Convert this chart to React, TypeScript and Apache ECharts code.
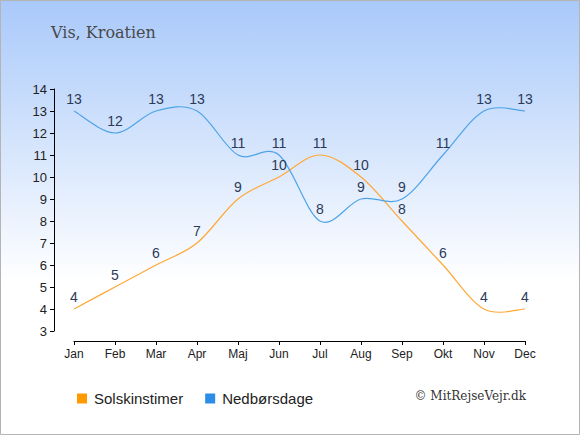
import React, { useEffect, useRef } from "react";
import * as echarts from "echarts";

const months = ["Jan", "Feb", "Mar", "Apr", "Maj", "Jun", "Jul", "Aug", "Sep", "Okt", "Nov", "Dec"];
const sunHours = [4, 5, 6, 7, 9, 10, 11, 10, 8, 6, 4, 4];
const rainDays = [13, 12, 13, 13, 11, 11, 8, 9, 9, 11, 13, 13];
const titleText = "Vis, Kroatien";
const sunName = "Solskinstimer";
const rainName = "Nedbørsdage";
const copyright = "© MitRejseVejr.dk";

const SUN_LINE = "#ffa834";
const RAIN_LINE = "#4da3ea";

function splineSeries(name: string, values: number[], color: string) {
  return {
    name,
    type: "custom",
    coordinateSystem: "cartesian2d",
    data: [[0, values[0]]],
    silent: true,
    z: 2,
    renderItem: (_params: any, api: any) => {
      const pts = values.map((v, i) => api.coord([i, v]));
      let d = `M${pts[0][0]},${pts[0][1]}`;
      for (let i = 0; i < pts.length - 1; i++) {
        const p0 = pts[i - 1] || pts[i];
        const p1 = pts[i];
        const p2 = pts[i + 1];
        const p3 = pts[i + 2] || pts[i + 1];
        const c1x = p1[0] + (p2[0] - p0[0]) / 6;
        const c1y = p1[1] + (p2[1] - p0[1]) / 6;
        const c2x = p2[0] - (p3[0] - p1[0]) / 6;
        const c2y = p2[1] - (p3[1] - p1[1]) / 6;
        d += ` C${c1x},${c1y} ${c2x},${c2y} ${p2[0]},${p2[1]}`;
      }
      return {
        type: "path",
        shape: { pathData: d },
        style: { fill: "none", stroke: color, lineWidth: 1.2 },
      };
    },
  };
}

export default function App() {
  const ref = useRef<HTMLDivElement>(null);
  useEffect(() => {
    document.body.style.margin = "0";
    const chart = echarts.init(ref.current!, null, { renderer: "svg" });
    const labelStyle = {
      show: true,
      position: "top",
      distance: 5,
      color: "#2b3a58",
      fontSize: 14,
      fontFamily: "Liberation Sans, Arial, sans-serif",
    };
    chart.setOption({
      animation: false,
      backgroundColor: {
        type: "linear",
        x: 0,
        y: 0,
        x2: 0,
        y2: 1,
        colorStops: [
          { offset: 0, color: "#a9c9fa" },
          { offset: 0.65, color: "#ffffff" },
          { offset: 1, color: "#ffffff" },
        ],
      },
      title: {
        text: titleText,
        left: 51,
        top: 24,
        padding: 0,
        textStyle: {
          fontFamily: "DejaVu Serif, serif",
          fontWeight: "normal",
          fontSize: 16,
          color: "#4a4a4a",
        },
      },
      legend: {
        left: 77,
        top: 391,
        padding: 0,
        itemWidth: 10,
        itemHeight: 10,
        itemGap: 22,
        icon: "rect",
        textStyle: {
          fontFamily: "Liberation Sans, Arial, sans-serif",
          fontSize: 15,
          color: "#222",
          padding: [0, 0, 0, 2],
        },
        data: [
          { name: sunName, itemStyle: { color: "#ff9900" } },
          { name: rainName, itemStyle: { color: "#2b8de6" } },
        ],
      },
      grid: { left: 74, right: 55, top: 89, bottom: 104 },
      xAxis: {
        type: "category",
        data: months,
        boundaryGap: false,
        offset: 10,
        axisLine: { lineStyle: { color: "#000", width: 1 } },
        axisTick: { length: 4, lineStyle: { color: "#000" } },
        axisLabel: {
          margin: 7,
          color: "#222",
          fontSize: 12,
          fontFamily: "Liberation Sans, Arial, sans-serif",
        },
        splitLine: { show: false },
      },
      yAxis: {
        type: "value",
        min: 3,
        max: 14,
        interval: 1,
        offset: 20,
        axisLine: { show: true, lineStyle: { color: "#000", width: 1 } },
        axisTick: { show: true, length: 4, lineStyle: { color: "#000" } },
        axisLabel: {
          margin: 7,
          color: "#222",
          fontSize: 13,
          fontFamily: "Liberation Sans, Arial, sans-serif",
        },
        splitLine: { show: false },
      },
      series: [
        {
          name: sunName,
          type: "line",
          data: sunHours,
          symbol: "circle",
          symbolSize: 0.1,
          showSymbol: true,
          color: SUN_LINE,
          lineStyle: { opacity: 0 },
          label: labelStyle,
          z: 3,
        },
        {
          name: rainName,
          type: "line",
          data: rainDays,
          symbol: "circle",
          symbolSize: 0.1,
          showSymbol: true,
          color: RAIN_LINE,
          lineStyle: { opacity: 0 },
          label: labelStyle,
          z: 3,
        },
        splineSeries(sunName, sunHours, SUN_LINE),
        splineSeries(rainName, rainDays, RAIN_LINE),
      ],
      graphic: [
        {
          type: "text",
          right: 54,
          top: 390,
          style: {
            text: copyright,
            fontFamily: "DejaVu Serif, serif",
            fontSize: 12,
            fill: "#333",
          },
        },
        {
          type: "rect",
          shape: { x: 0.5, y: 0.5, width: 579, height: 434 },
          style: { fill: "none", stroke: "#b4b4b4", lineWidth: 1 },
          silent: true,
        },
      ],
    });
    return () => chart.dispose();
  }, []);
  return <div ref={ref} style={{ position: "fixed", left: 0, top: 0, width: 580, height: 435 }} />;
}
